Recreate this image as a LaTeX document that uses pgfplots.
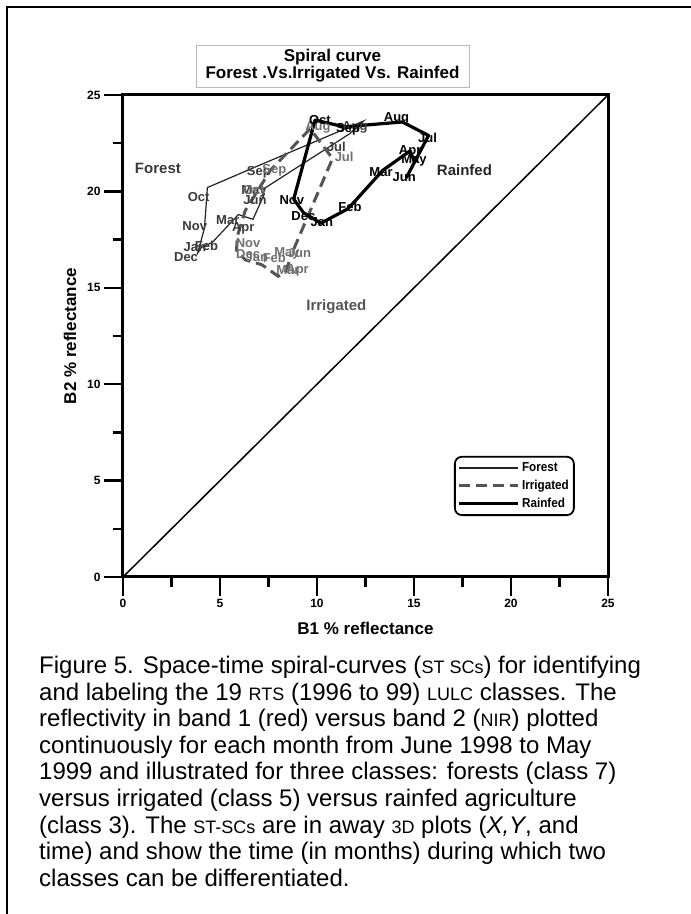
\documentclass[border=0pt]{standalone}
\usepackage{pgfplots}
\usepackage{pgfplotstable}
\pgfplotsset{compat=1.18}
\usepackage{fontspec}
\setmainfont{Liberation Sans}
\newfontfamily\narrowfont[FakeStretch=0.9]{Liberation Sans}
\definecolor{forestlab}{HTML}{3A3A3A}
\definecolor{irrlab}{HTML}{707070}
\definecolor{irrline}{HTML}{555555}
\definecolor{forestline}{HTML}{222222}

% Forest (thin line), Jun 1998 -> May 1999
\pgfplotstableread{
x y
7.2 20.1
11.7 23.0
12.4 23.65
6.9 21.3
4.35 20.2
4.2 18.1
3.85 16.8
4.05 17.1
4.6 17.35
5.95 18.8
6.7 18.55
7.3 19.9
}\forestdata
\pgfplotstableread{
x y label
6.8 19.55 Jun
11.0 22.3 Jul
11.95 23.3 Aug
7.0 21.0 Sep
3.9 19.7 Oct
3.7 18.2 Nov
3.25 16.6 Dec
3.7 17.1 Jan
4.3 17.2 Feb
5.4 18.5 Mar
6.2 18.1 Apr
6.75 20.0 May
}\forestlabels

% Irrigated (dashed), Jun 1998 -> May 1999
\pgfplotstableread{
x y
8.8 17.0
10.8 21.7
9.65 23.25
7.6 21.1
6.3 19.0
5.9 17.7
5.85 16.95
6.3 16.45
7.15 16.2
8.0 15.6
8.35 15.8
8.65 16.55
}\irrdata
\pgfplotstableread{
x y label
9.1 16.8 Jun
11.4 21.8 Jul
10.05 23.3 Aug
7.8 21.1 Sep
6.75 20.05 Oct
6.45 17.3 Nov
6.45 16.75 Dec
6.9 16.6 Jan
7.8 16.55 Feb
8.5 15.9 Mar
9.0 15.9 Apr
8.45 16.8 May
}\irrlabels

% Rainfed (thick line), Jun 1998 -> May 1999
\pgfplotstableread{
x y
14.6 20.7
15.75 22.9
14.4 23.6
11.4 23.35
9.9 23.7
8.8 19.6
9.3 18.9
10.2 18.35
11.6 19.1
13.4 21.1
14.8 22.1
15.0 21.6
}\raindata
\pgfplotstableread{
x y label
14.5 20.75 Jun
15.7 22.8 Jul
14.1 23.8 Aug
11.6 23.2 Sep
10.15 23.7 Oct
8.7 19.55 Nov
9.3 18.7 Dec
10.25 18.4 Jan
11.7 19.2 Feb
13.3 21.0 Mar
14.8 22.1 Apr
15.0 21.6 May
}\rainlabels

\begin{document}
\begin{tikzpicture}
\useasboundingbox (0pt,0pt) rectangle (691pt,914pt);
% page frame (left and top rules)
\draw[line width=2pt] (7pt,0pt) -- (7pt,907pt) -- (691pt,907pt);

% title box
\node[draw=gray!55, line width=0.8pt, inner sep=0pt, minimum width=273pt, minimum height=42pt,
      align=center, font=\fontsize{17}{17}\selectfont\bfseries] at (332.5pt,848pt)
      {Spiral curve\\Forest .Vs.Irrigated Vs. Rainfed};

\begin{axis}[
  at={(123pt,337pt)}, anchor=south west,
  scale only axis, width=485pt, height=482pt,
  xmin=0, xmax=25, ymin=0, ymax=25,
  xtick={0,5,10,15,20,25}, ytick={0,5,10,15,20,25},
  minor xtick={2.5,7.5,12.5,17.5,22.5}, minor ytick={2.5,7.5,12.5,17.5,22.5},
  tick pos=left, tick align=outside,
  major tick length=19pt, minor tick length=10pt,
  tick style={black, line width=2.5pt},
  axis line style={black, line width=3pt},
  /pgf/number format/assume math mode=true,
  ticklabel style={font=\fontsize{12}{12}\selectfont\bfseries},
  xlabel={B1 \% reflectance}, ylabel={B2 \% reflectance},
  label style={font=\fontsize{17}{17}\selectfont\bfseries},
  x label style={at={(axis description cs:0.5,-0.106)}, anchor=center},
  y label style={at={(axis description cs:-0.109,0.5)}, anchor=center},
  legend style={at={(axis cs:17.06,6.28)}, anchor=north west, draw=black, line width=1.8pt,
    rounded corners=7pt, font=\narrowfont\fontsize{13}{13}\selectfont\bfseries,
    inner xsep=3pt, inner ysep=4pt, row sep=3pt, nodes={inner sep=2pt}},
  legend cell align=left,
  legend image code/.code={\draw[#1] (0pt,0pt) -- (59pt,0pt);},
]
\addplot[black, line width=1.5pt, forget plot] coordinates {(0,0) (25,25)};

\addplot[forestline, line width=1.2pt] table[x=x,y=y]{\forestdata};
\addlegendentry{Forest}
\addplot[irrline, line width=3pt, dash pattern=on 11pt off 6pt] table[x=x,y=y]{\irrdata};
\addlegendentry{Irrigated}
\addplot[black, line width=3.2pt, line join=round] table[x=x,y=y]{\raindata};
\addlegendentry{Rainfed}

\addplot[forget plot, draw=none, nodes near coords, point meta=explicit symbolic,
  every node near coord/.append style={anchor=center, inner sep=0pt, text=forestlab,
  font=\fontsize{13}{13}\selectfont\bfseries}]
  table[x=x,y=y,meta=label]{\forestlabels};
\addplot[forget plot, draw=none, nodes near coords, point meta=explicit symbolic,
  every node near coord/.append style={anchor=center, inner sep=0pt, text=irrlab,
  font=\fontsize{13}{13}\selectfont\bfseries}]
  table[x=x,y=y,meta=label]{\irrlabels};
\addplot[forget plot, draw=none, nodes near coords, point meta=explicit symbolic,
  every node near coord/.append style={anchor=center, inner sep=0pt, text=black,
  font=\fontsize{13}{13}\selectfont\bfseries}]
  table[x=x,y=y,meta=label]{\rainlabels};

\node[font=\fontsize{15}{15}\selectfont\bfseries, text=forestlab] at (axis cs:1.8,21.2) {Forest};
\node[font=\fontsize{15}{15}\selectfont\bfseries, text=irrline] at (axis cs:11.0,14.0) {Irrigated};
\node[font=\fontsize{15}{15}\selectfont\bfseries, text=black!85] at (axis cs:17.6,21.1) {Rainfed};
\end{axis}

% caption
\node[anchor=base west, inner sep=0pt] at (39pt,240.5pt) {\parbox[t]{650pt}{\raggedright
\fontsize{24}{26.6}\selectfont
Figure 5. Space-time spiral-curves ({\fontsize{18}{18}\selectfont ST SCs}) for identifying\\
and labeling the 19 {\fontsize{18}{18}\selectfont RTS} (1996 to 99) {\fontsize{18}{18}\selectfont LULC} classes. The\\
reflectivity in band 1 (red) versus band 2 ({\fontsize{18}{18}\selectfont NIR}) plotted\\
continuously for each month from June 1998 to May\\
1999 and illustrated for three classes: forests (class 7)\\
versus irrigated (class 5) versus rainfed agriculture\\
(class 3). The {\fontsize{18}{18}\selectfont ST-SCs} are in away {\fontsize{18}{18}\selectfont 3D} plots (\textit{X,Y}, and\\
time) and show the time (in months) during which two\\
classes can be differentiated.}};
\end{tikzpicture}
\end{document}
